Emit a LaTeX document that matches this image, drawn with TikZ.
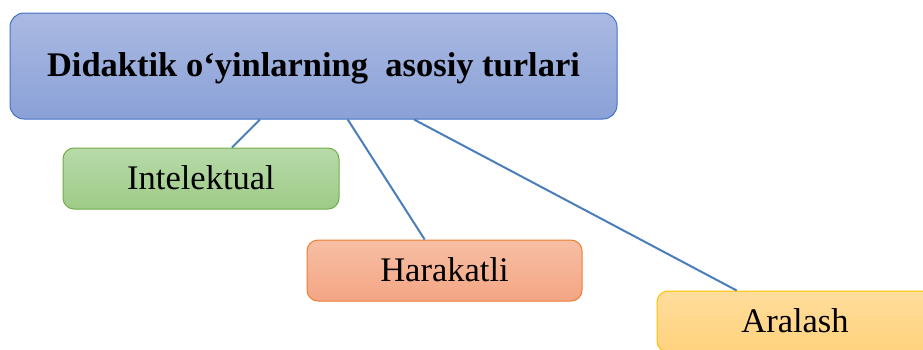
\documentclass[tikz,border=0pt]{standalone}
\usepackage{fontspec}
\setmainfont{Liberation Serif}
\definecolor{topA}{HTML}{AAB9E2}
\definecolor{topB}{HTML}{8AA1D7}
\definecolor{topE}{HTML}{4472C4}
\definecolor{grA}{HTML}{B8DAAA}
\definecolor{grB}{HTML}{9ECB87}
\definecolor{grE}{HTML}{70AD47}
\definecolor{orA}{HTML}{F7BEA4}
\definecolor{orB}{HTML}{F4A684}
\definecolor{orE}{HTML}{ED7D31}
\definecolor{yeA}{HTML}{FFDD9C}
\definecolor{yeB}{HTML}{FFD27D}
\definecolor{yeE}{HTML}{FFC000}
\definecolor{linkC}{HTML}{4A7EBB}
\tikzset{
  x=1pt, y=-1pt,
  box/.style={rectangle, rounded corners=11pt, inner sep=0pt, line width=1pt,
    text height=23pt, text depth=1.5pt,
    font=\fontsize{34.5}{40}\selectfont, text=black},
  headbox/.style={box, draw=topE, top color=topA, bottom color=topB,
    minimum width=607pt, minimum height=106pt, rounded corners=14pt,
    font=\fontsize{34.5}{40}\selectfont\bfseries},
  greenbox/.style={box, draw=grE, top color=grA, bottom color=grB,
    minimum width=276pt, minimum height=61pt},
  orangebox/.style={box, draw=orE, top color=orA, bottom color=orB,
    minimum width=275pt, minimum height=61pt},
  yellowbox/.style={box, draw=yeE, top color=yeA, bottom color=yeB,
    minimum width=276pt, minimum height=61pt},
  link/.style={draw=linkC, line width=2pt}
}
\begin{document}
\begin{tikzpicture}
\useasboundingbox (0,0) rectangle (923,349);
\clip (0,0) rectangle (923,349);
\node[headbox] (head) at (313.5,66) {Didaktik o‘yinlarning\ \ asosiy turlari};
\node[greenbox] (intel) at (201,178.5) {Intelektual};
\node[orangebox] (harak) at (444.5,270.5) {Harakatli};
\node[yellowbox] (aral) at (795,321.5) {Aralash};
\draw[link] (head) -- (intel);
\draw[link] (head) -- (harak);
\draw[link] (head) -- (aral);
\end{tikzpicture}
\end{document}
